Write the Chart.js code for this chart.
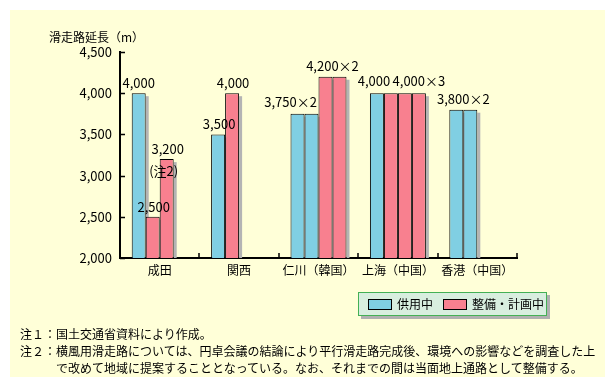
<!DOCTYPE html>
<html lang="ja">
<head>
<meta charset="UTF-8">
<title>滑走路延長</title>
<script src="https://cdn.jsdelivr.net/npm/chart.js"></script>
<style>
  body { margin: 0; background: #fff; font-family: "Noto Sans CJK JP", sans-serif; color: #000; }
  #wrap { position: relative; width: 615px; height: 387px; }
  #myChart { position: absolute; left: 0; top: 0; }
  .txt { position: absolute; font-size: 12px; line-height: 17px; white-space: nowrap; }
  #legend { position: absolute; left: 358px; top: 292px; width: 187px; height: 22px;
    border: 1px solid #44b055; background: #d8eedf; box-shadow: 3px 3px 0 #b0b0b0; }
  .sw { position: absolute; top: 6px; width: 22px; height: 9px; border: 1px solid #000; }
  .lt { position: absolute; top: 2px; font-size: 12px; line-height: 17px; }
</style>
</head>
<body>
<div id="wrap">
  <canvas id="myChart" width="615" height="387"></canvas>
  <div class="txt" style="left:49px; top:28px;">滑走路延長（m）</div>
  <div id="legend">
    <div class="sw" style="left:9px; background:#80cfe3;"></div>
    <div class="lt" style="left:38px;">供用中</div>
    <div class="sw" style="left:84px; background:#f8808f;"></div>
    <div class="lt" style="left:113px;">整備・計画中</div>
  </div>
  <div class="txt" style="left:20px; top:325px;">注１：国土交通省資料により作成。</div>
  <div class="txt" style="left:20px; top:342px;">注２：横風用滑走路については、円卓会議の結論により平行滑走路完成後、環境への影響などを調査した上</div>
  <div class="txt" style="left:56px; top:359px;">で改めて地域に提案することとなっている。なお、それまでの間は当面地上通路として整備する。</div>
</div>

<script>
// data
const categories = ['成田', '関西', '仁川（韓国）', '上海（中国）', '香港（中国）'];
// each airport has up to 4 runway slots
const slot1 = [4000, 3500, 3750, 4000, 3800];
const slot2 = [2500, 4000, 3750, 4000, 3800];
const slot3 = [3200, null, 4200, 4000, null];
const slot4 = [null, null, 4200, 4000, null];
// 'u' = 供用中, 'p' = 整備・計画中
const status1 = ['u', 'u', 'u', 'u', 'u'];
const status2 = ['p', 'p', 'u', 'p', 'u'];
const status3 = ['p', 'p', 'p', 'p', 'p'];
const status4 = ['p', 'p', 'p', 'p', 'p'];
const labelTexts = ['4,000', '2,500', '3,200', '(注2)', '3,500', '4,000', '3,750×2', '4,200×2', '4,000', '4,000×3', '3,800×2'];
const yTicks = [2000, 2500, 3000, 3500, 4000, 4500];

const BLUE = '#80cfe3';
const PINK = '#f8808f';
const FONT = '"Noto Sans CJK JP", sans-serif';

function colors(st) {
  return st.map(s => s === 'u' ? BLUE : PINK);
}

// where each label sits: dataset, index, x offset, y offset, anchor ('c' center, 'r' right edge)
const labelPlace = [
  { ds: 0, i: 0, dx: 0, dy: 0 },
  { ds: 1, i: 0, dx: 1, dy: 0 },
  { ds: 2, i: 0, dx: 1, dy: 0 },
  { ds: 2, i: 0, dx: -3, dy: 22 },
  { ds: 0, i: 1, dx: 1, dy: 0 },
  { ds: 1, i: 1, dx: 1, dy: 0 },
  { ds: 0, i: 2, dx: -7, dy: -2 },
  { ds: 2, i: 2, dx: 0, dy: -1, a: 'r' },
  { ds: 0, i: 3, dx: -3, dy: -2 },
  { ds: 3, i: 3, dx: 0, dy: -2 },
  { ds: 0, i: 4, dx: 0, dy: -1, a: 'r' }
];

const panelPlugin = {
  id: 'panel',
  beforeDraw(chart) {
    const ctx = chart.ctx;
    ctx.save();
    ctx.fillStyle = '#ffffd8';
    ctx.fillRect(10, 10, 595, 367);
    ctx.restore();
  }
};

const shadowPlugin = {
  id: 'shadow',
  beforeDatasetsDraw(chart) {
    const ctx = chart.ctx;
    const base = chart.chartArea.bottom;
    ctx.save();
    ctx.fillStyle = '#b4b4b4';
    chart.data.datasets.forEach((d, di) => {
      chart.getDatasetMeta(di).data.forEach((bar, i) => {
        if (d.data[i] == null) return;
        ctx.fillRect(bar.x + bar.width / 2, bar.y + 3, 3, base - bar.y - 3);
      });
    });
    ctx.restore();
  }
};

const labelPlugin = {
  id: 'valLabels',
  afterDatasetsDraw(chart) {
    const ctx = chart.ctx;
    ctx.save();
    ctx.font = '13px ' + FONT;
    ctx.fillStyle = '#000';
    ctx.textAlign = 'center';
    ctx.textBaseline = 'alphabetic';
    labelPlace.forEach((p, k) => {
      const bar = chart.getDatasetMeta(p.ds).data[p.i];
      let x = bar.x + p.dx;
      if (p.a === 'r') x += bar.width / 2;
      ctx.fillText(labelTexts[k], x, bar.y - 5 + p.dy);
    });
    ctx.restore();
  }
};

const tickPlugin = {
  id: 'tickMarks',
  afterDraw(chart) {
    const ctx = chart.ctx;
    const xs = chart.scales.x, ys = chart.scales.y;
    const a = chart.chartArea;
    ctx.save();
    ctx.strokeStyle = '#000';
    ctx.lineWidth = 1.5;
    ctx.beginPath();
    yTicks.forEach(v => {
      const y = Math.round(ys.getPixelForValue(v)) + 0.5;
      ctx.moveTo(a.left, y);
      ctx.lineTo(a.left + 5, y);
    });
    const w = (a.right - a.left) / categories.length;
    for (let i = 1; i <= categories.length; i++) {
      const x = Math.round(xs.getPixelForValue(i - 1) + w / 2);
      ctx.moveTo(x, a.bottom);
      ctx.lineTo(x, a.bottom - 5);
    }
    ctx.stroke();
    ctx.restore();
  }
};

const barCommon = { borderColor: '#000', borderWidth: 1, borderSkipped: false, barPercentage: 1, categoryPercentage: 0.705 };

const data = {
  labels: categories,
  datasets: [
    Object.assign({ label: 's1', data: slot1, backgroundColor: colors(status1) }, barCommon),
    Object.assign({ label: 's2', data: slot2, backgroundColor: colors(status2) }, barCommon),
    Object.assign({ label: 's3', data: slot3, backgroundColor: colors(status3) }, barCommon),
    Object.assign({ label: 's4', data: slot4, backgroundColor: colors(status4) }, barCommon)
  ]
};

const config = {
  type: 'bar',
  data: data,
  options: {
    responsive: false,
    animation: false,
    layout: { padding: { top: 52, right: 98, left: 0, bottom: 0 } },
    plugins: { legend: { display: false }, tooltip: { enabled: false } },
    scales: {
      x: {
        grid: { display: false, drawTicks: false },
        border: { color: '#000', width: 2 },
        ticks: { color: '#000', font: { family: FONT, size: 12 }, padding: 5, maxRotation: 0, autoSkip: false },
        afterFit(s) { s.height = 129; }
      },
      y: {
        min: 2000, max: 4500,
        grid: { display: false, drawTicks: false },
        border: { color: '#000', width: 2 },
        ticks: {
          stepSize: 500, color: '#000', font: { family: FONT, size: 13 }, padding: 8,
          callback: v => v.toLocaleString('en-US')
        },
        afterFit(s) { s.width = 120; }
      }
    }
  },
  plugins: [panelPlugin, shadowPlugin, labelPlugin, tickPlugin]
};

const myChart = new Chart(document.getElementById('myChart'), config);
</script>
</body>
</html>
